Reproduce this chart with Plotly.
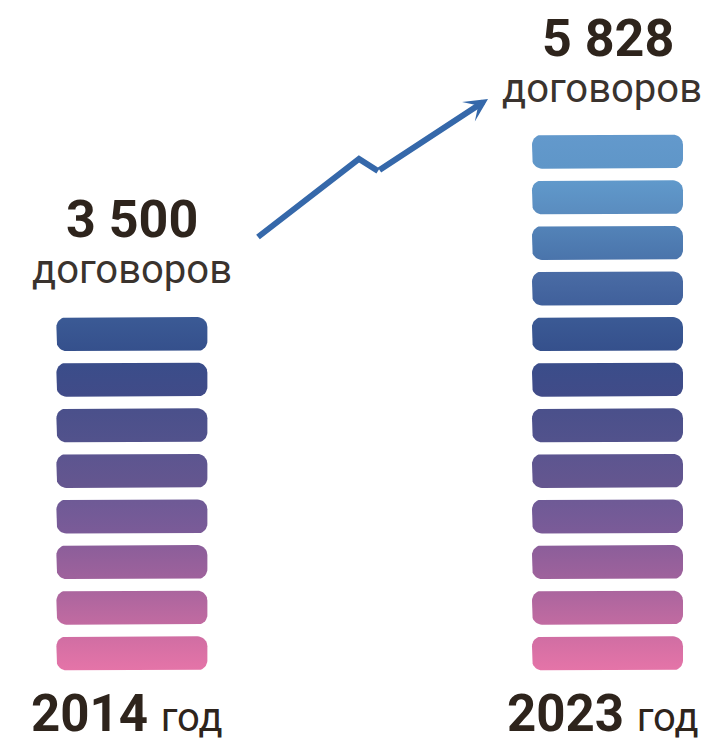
import numpy as np
import plotly.graph_objects as go

# ---------------- data ----------------
years = ["2014", "2023"]
year_suffix = "год"
contracts = [3500, 5828]
contracts_text = ["3 500", "5 828"]
contracts_unit = "договоров"
block_counts = [8, 12]

# block colours, index 0 = bottom block (top edge colour / bottom edge colour)
block_top_colors = ["#d06ea3", "#aa659e", "#8b5e9a", "#6e5a96", "#5c5590", "#4a508b",
                    "#3a4d8a", "#3b5a95", "#4a6ca5", "#5383b8", "#6099cb", "#6399cc"]
block_bottom_colors = ["#e574a8", "#c26ba1", "#9f629c", "#7b5b98", "#65568f", "#52528c",
                       "#414b88", "#35508c", "#40609b", "#4a74ab", "#5a8cbf", "#5f96c8"]

text_dark = "#2e241c"
text_unit = "#3a332e"
arrow_color = "#3568aa"

# ---------------- geometry (pixel scale of the data axes) ----------------
PAGE_MARGIN = 8             # browser body margin
W, H = 710 - PAGE_MARGIN, 744 - PAGE_MARGIN
PX_X, X0 = 475.6, 131.9     # pixels per x unit, page pixel of x=0
PX_Y, Y0 = 45.6, 653.3      # pixels per block, page pixel of y=0 (bottom block centre)

def px_x(v):
    return (v - X0) / PX_X

def px_y(v):
    return (Y0 - v) / PX_Y

half_w_px, half_h_px, rad_px = 75.5, 17.0, 10.0


def rounded_rect(cx, cy):
    pts = []
    corners = [(half_w_px - rad_px, half_h_px - rad_px, 0),
               (-(half_w_px - rad_px), half_h_px - rad_px, 90),
               (-(half_w_px - rad_px), -(half_h_px - rad_px), 180),
               (half_w_px - rad_px, -(half_h_px - rad_px), 270)]
    for ox, oy, a0 in corners:
        for a in np.linspace(a0, a0 + 90, 10):
            t = np.radians(a)
            pts.append((ox + rad_px * np.cos(t), oy + rad_px * np.sin(t)))
    pts.append(pts[0])
    xs = [cx + p[0] / PX_X for p in pts]
    ys = [cy + p[1] / PX_Y for p in pts]
    return xs, ys


fig = go.Figure()

for xi, n in enumerate(block_counts):
    for b in range(n):
        xs, ys = rounded_rect(xi, b)
        fig.add_trace(go.Scatter(
            x=xs, y=ys, mode="lines", fill="toself",
            line=dict(width=0, color=block_bottom_colors[b]),
            fillgradient=dict(type="vertical",
                              colorscale=[[0, block_bottom_colors[b]], [1, block_top_colors[b]]]),
            hoverinfo="skip", showlegend=False))

# growth arrow (decorative)
arrow_px = [(258, 237), (359, 159), (378, 171), (488, 99)]
ax_ = [px_x(p[0]) for p in arrow_px]
ay_ = [px_y(p[1]) for p in arrow_px]
fig.add_trace(go.Scatter(x=ax_[:3], y=ay_[:3], mode="lines",
                         line=dict(color=arrow_color, width=6),
                         hoverinfo="skip", showlegend=False))

annotations = [dict(x=ax_[3], y=ay_[3], ax=ax_[2], ay=ay_[2], xref="x", yref="y",
                    axref="x", ayref="y", showarrow=True, arrowhead=3, arrowsize=0.65,
                    arrowwidth=6, arrowcolor=arrow_color, text="", standoff=0)]

# texts
num_px_y = [219, 38]
unit_px_y = [269, 88]
unit_shift = [0, -6]
for xi in range(2):
    annotations.append(dict(x=xi, y=px_y(num_px_y[xi]), xref="x", yref="y",
                            text="<b>%s</b>" % contracts_text[xi], showarrow=False,
                            xanchor="center", yanchor="middle",
                            font=dict(family="Roboto", size=52, color=text_dark)))
    annotations.append(dict(x=xi, y=px_y(unit_px_y[xi]), xref="x", yref="y",
                            xshift=unit_shift[xi],
                            text=contracts_unit, showarrow=False,
                            xanchor="center", yanchor="middle",
                            font=dict(family="Roboto", size=40, color=text_unit)))
    annotations.append(dict(x=xi, y=px_y(713), xref="x", yref="y", xshift=-5,
                            text="<b>%s</b> <span style='font-size:40px'>%s</span>" % (years[xi], year_suffix),
                            showarrow=False, xanchor="center", yanchor="middle",
                            font=dict(family="Roboto", size=51, color=text_dark)))

fig.update_layout(
    width=W, height=H, margin=dict(l=0, r=0, t=0, b=0),
    paper_bgcolor="white", plot_bgcolor="white",
    xaxis=dict(range=[px_x(PAGE_MARGIN), px_x(710)], visible=False, fixedrange=True),
    yaxis=dict(range=[px_y(744), px_y(PAGE_MARGIN)], visible=False, fixedrange=True),
    annotations=annotations, showlegend=False)

fig.write_html("out.html")
